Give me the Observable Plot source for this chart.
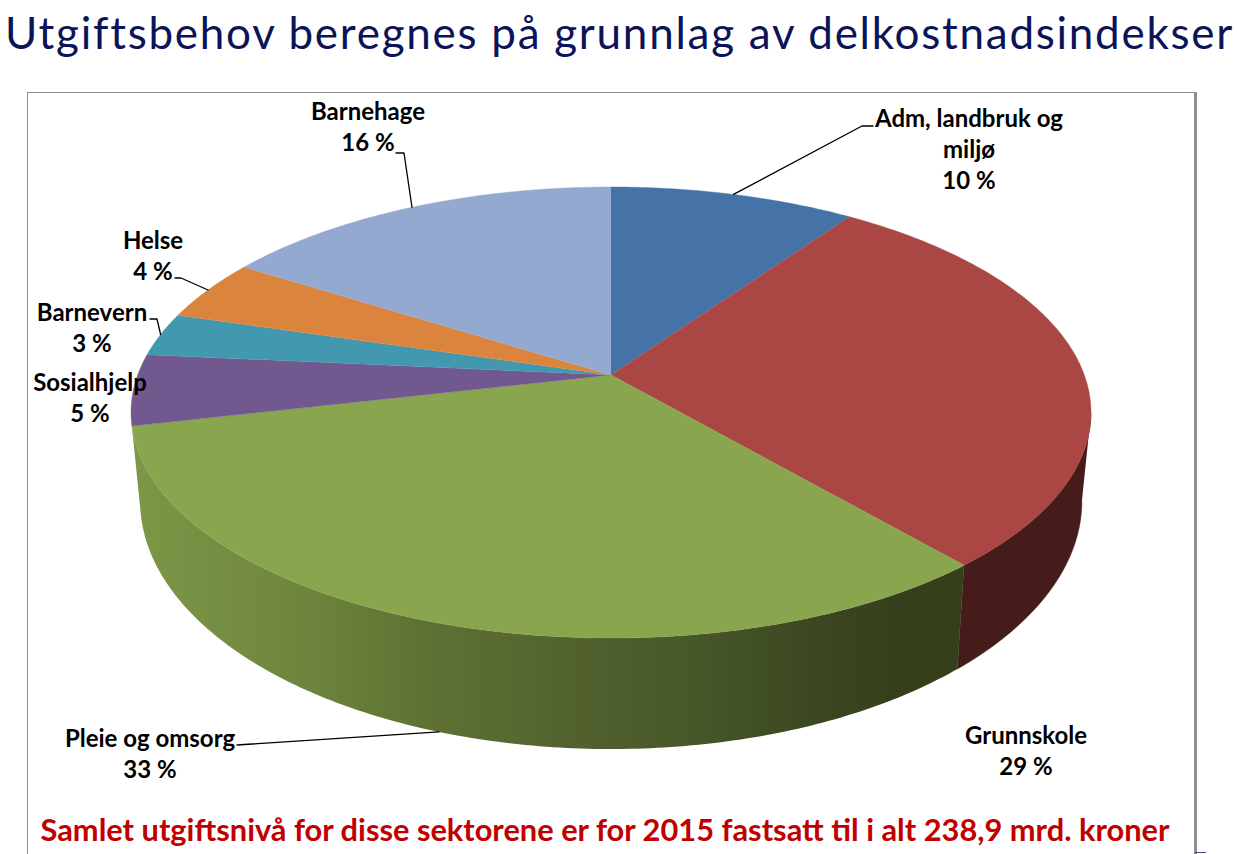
<!DOCTYPE html>
<html><head><meta charset="utf-8">
<script src="https://cdn.jsdelivr.net/npm/d3@7"></script>
<script src="https://cdn.jsdelivr.net/npm/@observablehq/plot@0.6"></script>
<style>
html,body{margin:0;padding:0;background:#fff;overflow:hidden;width:1237px;height:854px}
h1{position:absolute;left:5px;top:0;margin:0;font:400 44px Lato,sans-serif;letter-spacing:1.73px;color:#0b1458;white-space:nowrap;line-height:64px}
#frame{position:absolute;left:27px;top:92px;width:1166px;height:780px;border:solid #8e8e8e;border-width:1.5px 3px 0 1.5px;box-sizing:content-box}
#chart{position:absolute;left:0;top:0}
#caption{position:absolute;left:-6px;width:1166px;top:717px;text-align:center;font:700 30.8px Lato,sans-serif;color:#c00000;white-space:nowrap;line-height:40px}
#tab{position:absolute;left:1195px;top:852px;width:11px;height:2px;border-top:1.5px solid #2f4f9f}
</style></head>
<body>
<h1 id="title">Utgiftsbehov beregnes på grunnlag av delkostnadsindekser</h1>
<div id="frame"><div id="chart"></div><div id="caption">Samlet utgiftsnivå for disse sektorene er for 2015 fastsatt til i alt 238,9 mrd. kroner</div></div>
<div id="tab"></div>
<script>
// Data
const sectors = ["Adm, landbruk og miljø","Grunnskole","Pleie og omsorg","Sosialhjelp","Barnevern","Helse","Barnehage"];
const shares  = [9.7, 29.0, 32.7, 5.1, 3.1, 4.4, 16.0];      // slice sizes
const labels  = [10, 29, 33, 5, 3, 4, 16];                   // printed percentages
const topColors = ["#4572a7","#aa4643","#89a54e","#71588f","#4198af","#db843d","#93a9cf"];

// Label layout (reference units)
const labelText = ["Adm, landbruk og\nmiljø","Grunnskole","Pleie og omsorg","Sosialhjelp","Barnevern","Helse","Barnehage"];
const labelX = [969,1026,150,90,92,153,368];
const labelY = [148,750,753,396.5,326.5,254.5,125.5];
const elbowX = [[862,873],null,[237],null,[157,150],[181,175],[404,396]];
const elbowY = [[126,126],null,[745],null,[319,319],[278,278],[153,153]];

// Pie projection (perspective of a tilted disc), reference units
const cx = 611, cy = 375, A = 473.3, B = 219.3, k = 0.1663;
const depthX = 0.981, depthY = 1.1, rimBottom = 638, sideBottom = 749, widest = 0.277;
const topPt = t => { // t = fraction of the turn, clockwise from 12 o'clock
  const a = t * 2 * Math.PI, X = Math.sin(a), Y = -Math.cos(a), w = 1 - k * Y;
  return {x: cx + A * X / w, y: cy + B * Y / w};
};
const basePt = t => { const p = topPt(t);
  return {x: cx + depthX * (p.x - cx), y: sideBottom + depthY * (p.y - rimBottom)};
};
const arc = (f, a, b) => { const n = Math.max(2, Math.ceil(Math.abs(b - a) * 500));
  return d3.range(n + 1).map(i => f(a + (b - a) * i / n)); };

const total = d3.sum(shares);
const cum = d3.cumsum(shares).map(v => v / total);
const starts = sectors.map((_, i) => i ? cum[i - 1] : 0);
const mids = sectors.map((_, i) => (starts[i] + cum[i]) / 2);

const wedges = sectors.flatMap((name, i) =>
  [{x: cx, y: cy}, ...arc(topPt, starts[i], cum[i])].map(p => ({...p, name})));
const band = (a, b) => [...arc(topPt, a, b), ...arc(basePt, a, b).reverse()];

const leaders = [];
sectors.forEach((name, i) => {
  if (!elbowX[i]) return;
  const p = i === 2 ? basePt(mids[i]) : topPt(mids[i]);
  [p, ...elbowX[i].map((x, j) => ({x, y: elbowY[i][j]}))].forEach(q => leaders.push({...q, name}));
});
const labelRows = sectors.map((_, i) => ({x: labelX[i], y: labelY[i], text: `${labelText[i]}\n${labels[i]} %`}));

const defs = () => {
  const s = d3.create("svg:defs");
  const g = s.append("linearGradient").attr("id", "greenSide").attr("x1", 0).attr("x2", 1).attr("y1", 0).attr("y2", 0);
  [[0,"#7d9748"],[0.2,"#6f853d"],[0.35,"#5f7234"],[0.57,"#4f5e2d"],[0.69,"#465628"],[0.81,"#3c4822"],[0.92,"#363f1c"],[1,"#363f1c"]]
    .forEach(([o, c]) => g.append("stop").attr("offset", o).attr("stop-color", c));
  return s.node();
};

const plot = Plot.plot({
  width: 1166, height: 715, margin: 0,
  style: {background: "transparent", overflow: "visible"},
  x: {domain: [28.5, 1194.5], range: [0, 1166], axis: null},
  y: {domain: [93.5, 808.5], range: [0, 715], axis: null},
  color: {domain: sectors, range: topColors},
  marks: [
    defs,
    Plot.line(band(widest, cum[1]), {x: "x", y: "y", fill: "#451c1a", stroke: "#451c1a", strokeWidth: 0.5}),
    Plot.line(band(cum[1], cum[2]), {x: "x", y: "y", fill: "url(#greenSide)", stroke: "none"}),
    Plot.line(wedges, {x: "x", y: "y", z: "name", fill: "name", stroke: "name", strokeWidth: 0.4}),
    Plot.line(leaders, {x: "x", y: "y", z: "name", stroke: "#000", strokeWidth: 1.3}),
    Plot.text(labelRows, {x: "x", y: "y", text: "text", fontFamily: "Lato", fontWeight: 700, fontSize: 24, lineHeight: 1.29, fill: "#000", textAnchor: "middle"})
  ]
});
document.getElementById("chart").append(plot);
</script>
</body></html>
